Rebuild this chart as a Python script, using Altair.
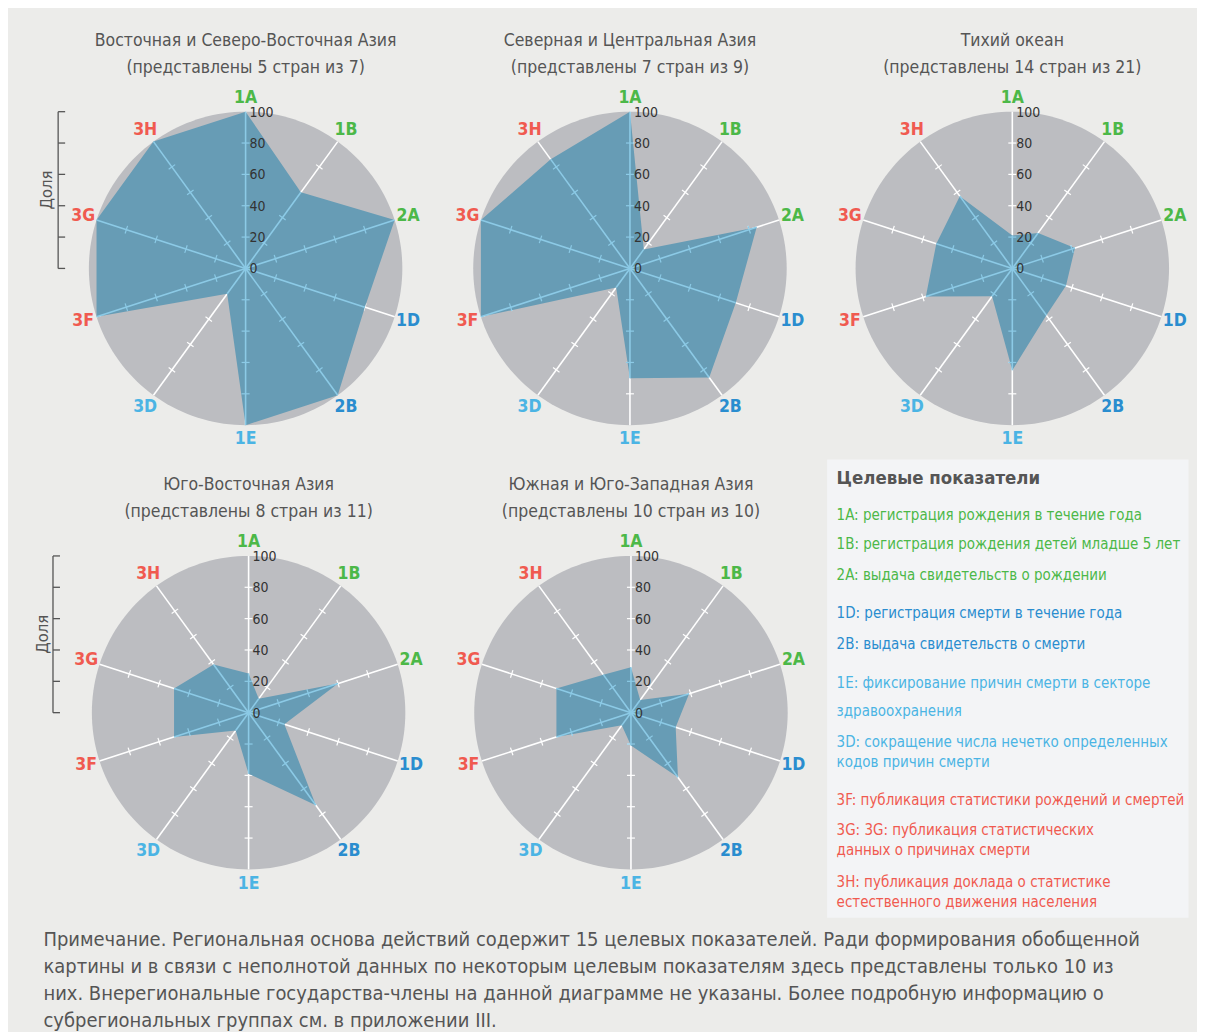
import altair as alt
import pandas as pd

# ---------------- data ----------------
INDICATORS = ["1A", "1B", "2A", "1D", "2B", "1E", "3D", "3F", "3G", "3H"]
REGIONS = [
    "Восточная и Северо-Восточная Азия",
    "Северная и Центральная Азия",
    "Тихий океан",
    "Юго-Восточная Азия",
    "Южная и Юго-Западная Азия",
]
SUBTITLES = [
    "(представлены 5 стран из 7)",
    "(представлены 7 стран из 9)",
    "(представлены 14 стран из 21)",
    "(представлены 8 стран из 11)",
    "(представлены 10 стран из 10)",
]
VALUES_EAST = [100, 60, 100, 80, 100, 100, 20, 100, 100, 100]
VALUES_NORTH = [100, 15, 85, 71, 86, 70, 15, 100, 100, 86]
VALUES_PACIFIC = [21, 28, 42, 36, 37, 65, 22, 58, 51, 57]
VALUES_SOUTHEAST = [25, 11, 60, 24, 73, 39, 14, 50, 50, 38]
VALUES_SOUTH = [29, 10, 39, 30, 51, 21, 10, 50, 50, 30]
TICKS = [0, 20, 40, 60, 80, 100]
AXIS_LABEL = "Доля"
LEGEND_TITLE = "Целевые показатели"
LEGEND_ITEMS = [
    ["1A: регистрация рождения в течение года"],
    ["1B: регистрация рождения детей младше 5 лет"],
    ["2A: выдача свидетельств о рождении"],
    ["1D: регистрация смерти в течение года"],
    ["2B: выдача свидетельств о смерти"],
    ["1E: фиксирование причин смерти в секторе", "здравоохранения"],
    ["3D: сокращение числа нечетко определенных", "кодов причин смерти"],
    ["3F: публикация статистики рождений и смертей"],
    ["3G: 3G: публикация статистических", "данных о причинах смерти"],
    ["3H: публикация доклада о статистике", "естественного движения населения"],
]
NOTE_LINES = [
    "Примечание. Региональная основа действий содержит 15 целевых показателей. Ради формирования обобщенной",
    "картины и в связи с неполнотой данных по некоторым целевым показателям здесь представлены только 10 из",
    "них. Внерегиональные государства-члены на данной диаграмме не указаны. Более подробную информацию о",
    "субрегиональных группах см. в приложении III.",
]

# ---------------- styles / layout ----------------
FONT = "Liberation Sans Narrow, DejaVu Sans Condensed, Roboto Condensed, Roboto, sans-serif"
BG = "#ececea"
DISC = "#bcbdc1"
POLY = "#679cb5"
SPOKE_IN = "#8ccae6"
GREEN, BLUE, LBLUE, RED = "#4cb848", "#2a8dcf", "#4bb4e4", "#f05a50"
LABEL_COLORS = [GREEN, GREEN, GREEN, BLUE, BLUE, LBLUE, LBLUE, RED, RED, RED]
TEXT = "#555555"
S = 1.57  # pixels per data unit
N = len(INDICATORS)
RMAX = max(TICKS)
ANG = f"datum.k*2*PI/{N}"


def radar(idx, values, L, R, T, B, dolya=None):
    xs = alt.Scale(domain=[-L / S, R / S], nice=False, zero=False)
    ys = alt.Scale(domain=[-B / S, T / S], nice=False, zero=False)

    def X(f):
        return alt.X(f, type="quantitative", scale=xs, axis=None)

    def Y(f):
        return alt.Y(f, type="quantitative", scale=ys, axis=None)

    ind_df = pd.DataFrame({"ind": INDICATORS, "k": list(range(N))})
    poly_df = pd.DataFrame({"ind": INDICATORS, "k": list(range(N)), "v": values})
    tick_df = pd.DataFrame(
        [(ind, k, t, values[k]) for k, ind in enumerate(INDICATORS) for t in TICKS if 0 < t < RMAX],
        columns=["ind", "k", "r", "v"],
    )
    h = 4 / S

    disc = (
        alt.Chart(alt.sequence(0, 360, 2, as_="t"))
        .transform_calculate(x=f"{RMAX}*sin(datum.t*PI/180)", y=f"{RMAX}*cos(datum.t*PI/180)")
        .mark_line(interpolate="linear-closed", fill=DISC, strokeWidth=0)
        .encode(x=X("x"), y=Y("y"), order="t:Q")
    )

    def spoke_layer(df, length, color):
        return (
            alt.Chart(df)
            .transform_calculate(a=ANG)
            .transform_calculate(x0="0", y0="0", x1=f"{length}*sin(datum.a)", y1=f"{length}*cos(datum.a)")
            .mark_rule(color=color, strokeWidth=1.6)
            .encode(x=X("x0"), y=Y("y0"), x2="x1:Q", y2="y1:Q")
        )

    def tick_layer(color, inside):
        c = alt.Chart(tick_df)
        if inside:
            c = c.transform_filter("datum.r < datum.v")
        return (
            c.transform_calculate(a=ANG)
            .transform_calculate(px="datum.r*sin(datum.a)", py="datum.r*cos(datum.a)")
            .transform_calculate(
                xa=f"datum.px - {h}*cos(datum.a)", ya=f"datum.py + {h}*sin(datum.a)",
                xb=f"datum.px + {h}*cos(datum.a)", yb=f"datum.py - {h}*sin(datum.a)",
            )
            .mark_rule(color=color, strokeWidth=1.2)
            .encode(x=X("xa"), y=Y("ya"), x2="xb:Q", y2="yb:Q")
        )

    spokes = spoke_layer(ind_df, RMAX, "white")
    ticks = tick_layer("white", False)
    poly = (
        alt.Chart(poly_df)
        .transform_calculate(a=ANG)
        .transform_calculate(x="datum.v*sin(datum.a)", y="datum.v*cos(datum.a)")
        .mark_line(interpolate="linear-closed", fill=POLY, strokeWidth=0)
        .encode(x=X("x"), y=Y("y"), order="k:Q")
    )
    spokes_in = spoke_layer(poly_df, "datum.v", SPOKE_IN)
    ticks_in = tick_layer(SPOKE_IN, True)
    tlab = (
        alt.Chart(pd.DataFrame({"t": TICKS}))
        .transform_calculate(x0="0")
        .mark_text(align="left", baseline="middle", dx=4, dy=1, font=FONT, fontSize=14, color="#333333")
        .encode(x=X("x0"), y=Y("t"), text="t:Q")
    )
    labels = (
        alt.Chart(ind_df)
        .transform_calculate(a=ANG)
        .transform_calculate(x=f"109*sin(datum.a)", y=f"109*cos(datum.a)")
        .mark_text(font=FONT, fontWeight="bold", fontSize=17.5, baseline="middle")
        .encode(
            x=X("x"), y=Y("y"), text="ind:N",
            color=alt.Color("ind:N", scale=alt.Scale(domain=INDICATORS, range=LABEL_COLORS), legend=None),
        )
    )
    title = (
        alt.Chart(pd.DataFrame({"line": [REGIONS[idx], SUBTITLES[idx]], "n": [0, 1]}))
        .transform_calculate(x0="0", y0=f"{145} - datum.n*{27 / S}")
        .mark_text(font=FONT, fontSize=17.5, color=TEXT, baseline="middle")
        .encode(x=X("x0"), y=Y("y0"), text="line:N")
    )
    layers = [disc, spokes, ticks, poly, spokes_in, ticks_in, tlab, labels, title]
    if dolya is not None:
        ax, tx = dolya
        vline = (
            alt.Chart(pd.DataFrame({"lo": [min(TICKS)], "hi": [max(TICKS)]}))
            .transform_calculate(xv=f"{-ax}")
            .mark_rule(color=TEXT, strokeWidth=1.3)
            .encode(x=X("xv"), y=Y("lo"), y2="hi:Q")
        )
        vticks = (
            alt.Chart(pd.DataFrame({"t": TICKS}))
            .transform_calculate(xa=f"{-ax}", xb=f"{-ax + 7 / S}")
            .mark_rule(color=TEXT, strokeWidth=1.3)
            .encode(x=X("xa"), x2="xb:Q", y=Y("t"))
        )
        vtext = (
            alt.Chart(pd.DataFrame({"label": [AXIS_LABEL], "t": [(min(TICKS) + max(TICKS)) / 2]}))
            .transform_calculate(xv=f"{-tx}")
            .mark_text(angle=270, font=FONT, fontSize=16.5, color=TEXT, baseline="middle")
            .encode(x=X("xv"), y=Y("t"), text="label:N")
        )
        layers += [vline, vticks, vtext]
    return alt.layer(*layers).properties(width=L + R, height=T + B)


# row 1  (column widths: 431, 388, 370)
p1 = radar(0, VALUES_EAST, 237, 194, 259, 191, dolya=(119.6, 126.8))
p2 = radar(1, VALUES_NORTH, 191, 197, 259, 191)
p3 = radar(2, VALUES_PACIFIC, 186, 184, 259, 191)
# row 2
p4 = radar(3, VALUES_SOUTHEAST, 240, 191, 254, 205, dolya=(124.8, 131.4))
p5 = radar(4, VALUES_SOUTH, 192, 196, 254, 205)

# legend panel
LW, LH = 362, 459
LEGEND_Y = [[56], [85], [116], [154], [185], [224, 252], [283, 303], [341], [372, 392], [424, 444]]
rows = []
for item, ys, col in zip(LEGEND_ITEMS, LEGEND_Y, LABEL_COLORS):
    for line, yy in zip(item, ys):
        rows.append({"text": line, "y": yy, "x": 10, "col": col})
leg_df = pd.DataFrame(rows)
lxs = alt.Scale(domain=[0, LW], nice=False, zero=False)
lys = alt.Scale(domain=[0, LH], nice=False, zero=False, reverse=True)
leg_items = (
    alt.Chart(leg_df)
    .mark_text(align="left", baseline="middle", font=FONT, fontSize=15)
    .encode(
        x=alt.X("x:Q", scale=lxs, axis=None),
        y=alt.Y("y:Q", scale=lys, axis=None),
        text="text:N",
        color=alt.Color("col:N", scale=None),
    )
)
leg_title = (
    alt.Chart(pd.DataFrame({"text": [LEGEND_TITLE], "x": [10], "y": [19]}))
    .mark_text(align="left", baseline="middle", font=FONT, fontSize=18.5, fontWeight="bold", color=TEXT)
    .encode(x=alt.X("x:Q", scale=lxs, axis=None), y=alt.Y("y:Q", scale=lys, axis=None), text="text:N")
)
legend = alt.layer(leg_title, leg_items).properties(
    width=LW, height=LH, view=alt.ViewBackground(fill="#f3f4f6", stroke="transparent")
)

note_title = alt.TitleParams(
    text=NOTE_LINES, orient="bottom", anchor="start", dx=35, offset=12,
    font=FONT, fontSize=20, fontWeight="normal", color=TEXT, lineHeight=27, baseline="top",
)

chart = (
    alt.concat(
        p1, p2, p3, p4, p5, legend,
        columns=3, spacing=0, bounds="flush", align="each",
        padding=0, background=BG, title=note_title,
    )
    .configure_view(stroke="transparent")
)
chart.save("out.html", embed_options={"renderer": "svg", "actions": False})
